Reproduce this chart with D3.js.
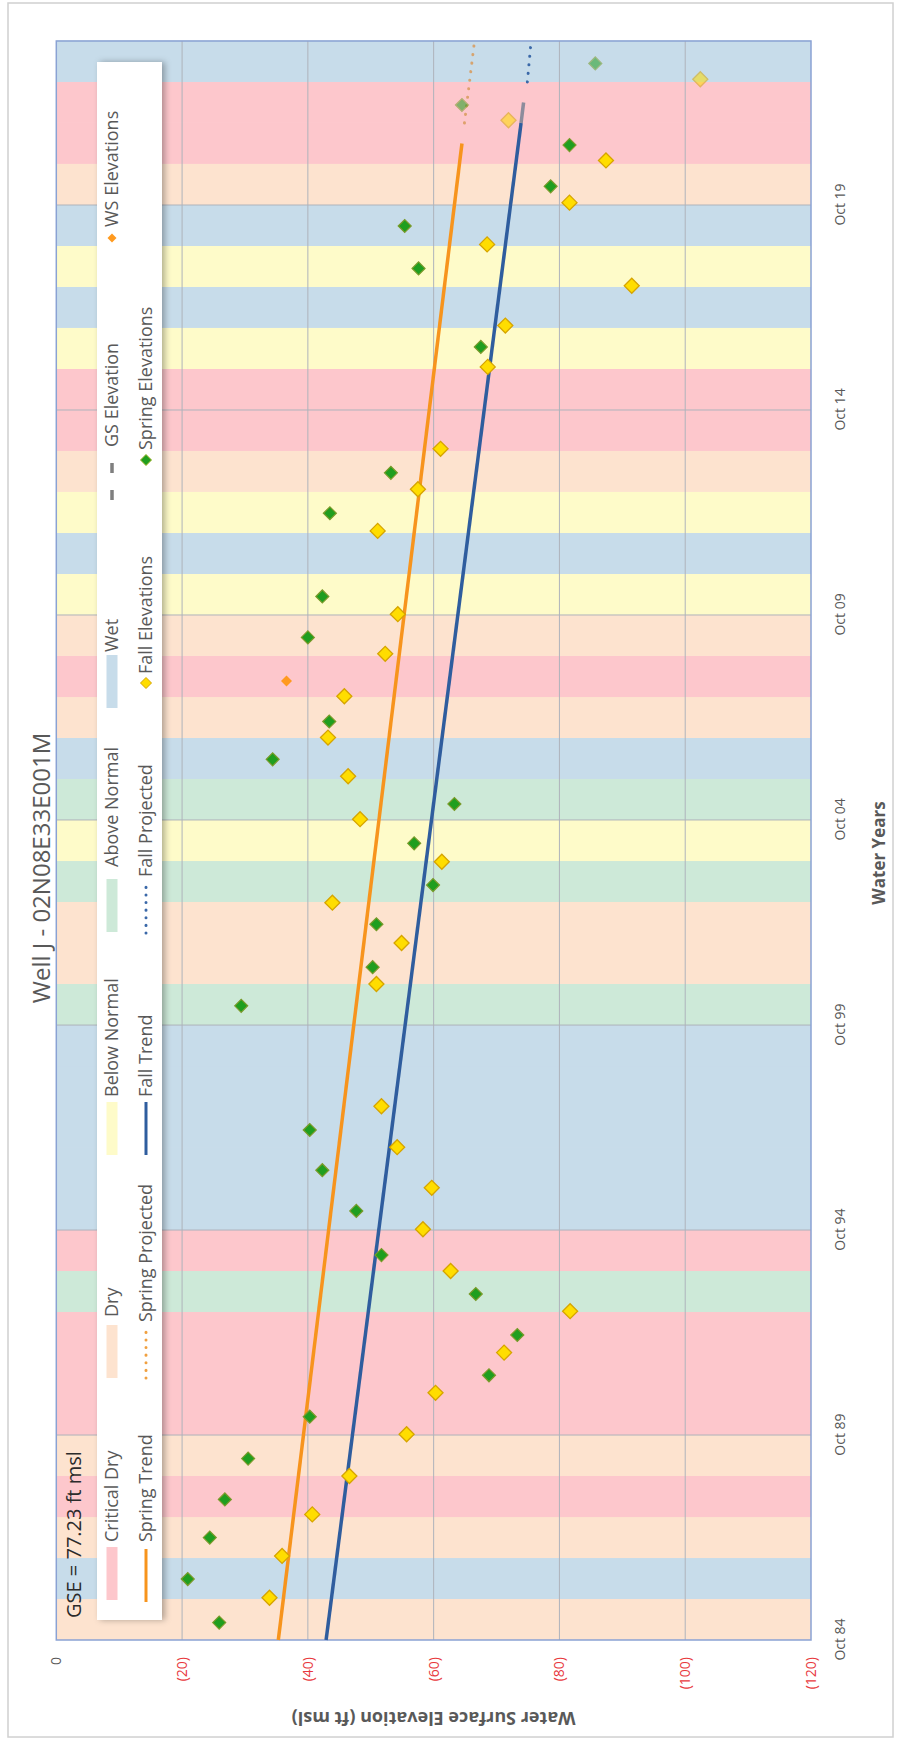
<!DOCTYPE html>
<html>
<head>
<meta charset="utf-8">
<script src="https://cdn.jsdelivr.net/npm/d3@7"></script>
<style>
body { margin: 0; background: #fff; }
text { font-family: "Open Sans", "Noto Sans", sans-serif; }
</style>
</head>
<body>
<div id="chart"></div>
<script>
var parseDate = d3.timeParse("%Y-%m-%d");

// water year types from WY 1985 to WY 2023
var waterYearStart = 1985;
var waterYearTypes = ["D","W","D","CD","D","CD","CD","CD","AN","CD","W","W","W","W","W","AN","D","D","AN","BN",
                      "AN","W","D","CD","D","BN","W","BN","D","CD","CD","BN","W","BN","W","D","CD","CD","W"];

var springDates = ["1985-03-05","1986-03-28","1987-04-01","1988-03-06","1989-03-05","1990-03-13","1991-03-17","1992-03-10",
                   "1993-03-10","1994-02-20","1995-03-20","1996-03-17","1997-03-10","2000-03-20","2001-02-28","2002-03-17",
                   "2003-03-01","2004-03-07","2005-02-20","2006-03-25","2007-02-25","2009-03-15","2010-03-15","2012-03-25",
                   "2013-03-20","2016-04-15","2018-03-15","2019-03-28","2020-03-15","2021-03-18","2022-03-10","2023-03-15"];
var springValues = [25.9,20.9,24.4,26.8,30.5,40.3,68.8,73.3,66.7,51.7,47.7,42.3,40.3,29.4,50.3,50.9,
                    59.9,56.9,63.3,34.4,43.4,40.0,42.3,43.5,53.2,67.5,57.6,55.4,78.6,81.6,64.5,85.7];

var fallDates = ["1985-10-12","1986-10-20","1987-10-25","1988-10-01","1989-10-08","1990-10-12","1991-10-05","1992-10-08",
                 "1993-10-01","1994-10-08","1995-10-12","1996-10-08","1997-10-08","2000-10-01","2001-10-01","2002-09-25",
                 "2003-09-25","2004-10-08","2005-10-25","2006-10-05","2007-10-08","2008-10-20","2009-10-08","2011-10-20",
                 "2012-10-25","2013-10-20","2015-10-20","2016-10-22","2017-10-12","2018-10-15","2019-10-22","2020-11-01",
                 "2021-10-25","2022-10-25"];
var fallValues = [33.9,35.9,40.7,46.6,55.7,60.3,71.2,81.7,62.7,58.3,59.7,54.2,51.7,50.9,54.9,43.9,
                  61.3,48.3,46.4,43.2,45.8,52.3,54.3,51.1,57.5,61.1,68.6,71.4,91.5,68.5,81.6,87.4,
                  71.9,102.4];

var wsDates = ["2008-02-20"];
var wsValues = [36.6];

var springTrendDates = ["1984-10-01","2021-04-01"], springTrendValues = [35.3, 64.5];
var springProjDates = ["2021-10-01","2023-10-01"], springProjValues = [64.9, 66.5];
var fallTrendDates = ["1984-10-01","2021-10-01"], fallTrendValues = [42.9, 73.9];
var gsDates = ["2021-10-01","2022-04-01"], gsValues = [73.9, 74.3];
var fallProjDates = ["2022-10-01","2023-10-01"], fallProjValues = [74.9, 75.5];

var xTickDates = ["1984-10-01","1989-10-01","1994-10-01","1999-10-01","2004-10-01","2009-10-01","2014-10-01","2019-10-01"];
var yTickValues = [0, 20, 40, 60, 80, 100, 120];

var lastMeasured = parseDate("2021-05-01");

var bandColors = { CD: "#fdc7cc", D: "#fde3cf", BN: "#fefbc9", AN: "#cde9d8", W: "#c7dcea" };

function zipSeries(dates, values) {
	return dates.map(function(d, i) { return { date: parseDate(d), value: values[i] }; });
}

function diamond(r) {
	return "M0," + (-r) + "L" + r + ",0L0," + r + "L" + (-r) + ",0Z";
}

var W = 898, H = 1743;

var svg = d3.select("#chart").append("svg")
	.attr("width", W)
	.attr("height", H);

var defs = svg.append("defs");
defs.append("filter").attr("id", "shadow")
	.attr("x", "-5%").attr("y", "-30%").attr("width", "110%").attr("height", "170%")
  .append("feDropShadow")
	.attr("dx", 0).attr("dy", 3).attr("stdDeviation", 3)
	.attr("flood-color", "#000").attr("flood-opacity", 0.3);

// chart is laid out landscape and then turned a quarter counter-clockwise
var g = svg.append("g").attr("transform", "translate(0," + H + ") rotate(-90)");

// outer frame
g.append("rect")
	.attr("x", 6).attr("y", 8)
	.attr("width", 1734).attr("height", 885)
	.style("fill", "#fff")
	.style("stroke", "#d0d0d0")
	.style("stroke-width", 1.5);

var x = d3.scaleTime()
	.domain([parseDate("1984-10-01"), parseDate("2023-10-01")])
	.range([103, 1702]);
var y = d3.scaleLinear()
	.domain([0, 120])
	.range([56.3, 811]);

// water year type bands
g.selectAll(".band")
	.data(waterYearTypes)
  .enter().append("rect")
	.attr("class", "band")
	.attr("x", function(d, i) { return x(new Date(waterYearStart + i - 1, 9, 1)); })
	.attr("width", function(d, i) { return x(new Date(waterYearStart + i, 9, 1)) - x(new Date(waterYearStart + i - 1, 9, 1)) + 0.5; })
	.attr("y", y(0))
	.attr("height", y(120) - y(0))
	.style("fill", function(d) { return bandColors[d]; });

// gridlines
g.selectAll(".vgrid")
	.data(yTickValues.slice(1, -1))
  .enter().append("line")
	.attr("x1", x.range()[0]).attr("x2", x.range()[1])
	.attr("y1", function(d) { return y(d); })
	.attr("y2", function(d) { return y(d); })
	.style("stroke", "#aeb3bb").style("stroke-width", 1);
g.selectAll(".hgrid")
	.data(xTickDates.slice(1))
  .enter().append("line")
	.attr("x1", function(d) { return x(parseDate(d)); })
	.attr("x2", function(d) { return x(parseDate(d)); })
	.attr("y1", y(0)).attr("y2", y(120))
	.style("stroke", "#aeb3bb").style("stroke-width", 1);

// plot border
g.append("rect")
	.attr("x", x.range()[0]).attr("y", y(0))
	.attr("width", x.range()[1] - x.range()[0])
	.attr("height", y(120) - y(0))
	.style("fill", "none")
	.style("stroke", "#8aa2d4")
	.style("stroke-width", 1.5);

// axes
var xAxis = g.append("g")
	.attr("transform", "translate(0," + 832 + ")")
	.call(d3.axisBottom(x)
		.tickValues(xTickDates.map(parseDate))
		.tickFormat(d3.timeFormat("%b %y"))
		.tickSize(0));
xAxis.select(".domain").remove();
xAxis.selectAll("text")
	.attr("dy", 0).attr("y", 13)
	.style("font-size", "14px")
	.style("fill", "#595959");

var yAxis = g.append("g")
	.attr("transform", "translate(" + 86 + ",0)")
	.call(d3.axisLeft(y)
		.tickValues(yTickValues)
		.tickFormat(function(v) { return v === 0 ? "0" : "(" + v + ")"; })
		.tickSize(0));
yAxis.select(".domain").remove();
yAxis.selectAll("text")
	.attr("x", 0)
	.style("font-size", "14px")
	.style("fill", function(d) { return d === 0 ? "#595959" : "#e8383d"; });

// axis titles
g.append("text")
	.attr("x", 890).attr("y", 885)
	.style("text-anchor", "middle")
	.style("font-size", "17px")
	.style("font-weight", "bold")
	.style("fill", "#595959")
	.text("Water Years");
g.append("text")
	.attr("transform", "translate(31," + y(60) + ") rotate(-90)")
	.style("text-anchor", "middle")
	.style("font-size", "18px")
	.style("font-weight", "bold")
	.style("fill", "#595959")
	.text("Water Surface Elevation (ft msl)");

// chart title
g.append("text")
	.attr("x", 875).attr("y", 50)
	.style("text-anchor", "middle")
	.style("font-size", "24px")
	.style("fill", "#595959")
	.text("Well J - 02N08E33E001M");

// trend and projection lines
var line = d3.line()
	.x(function(d) { return x(d.date); })
	.y(function(d) { return y(d.value); });

g.append("path").datum(zipSeries(springTrendDates, springTrendValues))
	.attr("d", line)
	.style("fill", "none").style("stroke", "#f7941d").style("stroke-width", 3.5);
g.append("path").datum(zipSeries(springProjDates, springProjValues))
	.attr("d", line)
	.style("fill", "none").style("stroke", "#d89a5a").style("stroke-width", 3)
	.style("stroke-dasharray", "0.1,8.5").style("stroke-linecap", "round").style("opacity", 0.85);
g.append("path").datum(zipSeries(fallTrendDates, fallTrendValues))
	.attr("d", line)
	.style("fill", "none").style("stroke", "#2f5d9e").style("stroke-width", 3.5);
g.append("path").datum(zipSeries(gsDates, gsValues))
	.attr("d", line)
	.style("fill", "none").style("stroke", "#8c8c9c").style("stroke-width", 3.5);
g.append("path").datum(zipSeries(fallProjDates, fallProjValues))
	.attr("d", line)
	.style("fill", "none").style("stroke", "#3a68a8").style("stroke-width", 3)
	.style("stroke-dasharray", "0.1,8.5").style("stroke-linecap", "round");

// markers
function fadeLate(d) { return d.date > lastMeasured ? 0.55 : 1; }

g.selectAll(".fall")
	.data(zipSeries(fallDates, fallValues))
  .enter().append("path")
	.attr("class", "fall")
	.attr("transform", function(d) { return "translate(" + x(d.date) + "," + y(d.value) + ")"; })
	.attr("d", diamond(7.5))
	.style("fill", "#ffdd00").style("stroke", "#d6a400").style("stroke-width", 1.3)
	.style("opacity", fadeLate);

g.selectAll(".spring")
	.data(zipSeries(springDates, springValues))
  .enter().append("path")
	.attr("class", "spring")
	.attr("transform", function(d) { return "translate(" + x(d.date) + "," + y(d.value) + ")"; })
	.attr("d", diamond(6.5))
	.style("fill", "#1f9e1f").style("stroke", "#7a9a2a").style("stroke-width", 1.2)
	.style("opacity", fadeLate);

g.selectAll(".ws")
	.data(zipSeries(wsDates, wsValues))
  .enter().append("path")
	.attr("class", "ws")
	.attr("transform", function(d) { return "translate(" + x(d.date) + "," + y(d.value) + ")"; })
	.attr("d", diamond(5.5))
	.style("fill", "#ff9a1f");

// GSE note
g.append("text")
	.attr("x", 125).attr("y", 81)
	.style("font-size", "20px")
	.style("fill", "#2b2b2b")
	.text("GSE = 77.23 ft msl");

// legend
var legendNames = ["Critical Dry","Dry","Below Normal","Above Normal","Wet","GS Elevation","WS Elevations",
                   "Spring Trend","Spring Projected","Fall Trend","Fall Projected","Fall Elevations","Spring Elevations"];
var legendKinds = ["band","band","band","band","band","gs","ws","line","dots","line","dots","fall","spring"];
var legendColors = ["#fdc7cc","#fde3cf","#fefbc9","#cde9d8","#c7dcea","#7f7f7f","#ff9a1f",
                    "#f7941d","#f0a040","#2f5d9e","#3a68a8","#ffdd00","#1f9e1f"];
// symbol start and text start along the legend, and its row
var legendSymX = [143,365,588,811,1035,1243,1505,141,365,588,810,1060,1283];
var legendTextX = [201,426,646,876,1091,1296,1516,201,421,646,866,1069,1293];
var legendRow = [0,0,0,0,0,0,0,1,1,1,1,1,1];
var rowMid = [112, 146];

g.append("rect")
	.attr("x", 123).attr("y", 97)
	.attr("width", 1558).attr("height", 65)
	.style("fill", "#fff")
	.style("filter", "url(#shadow)");

var legend = g.selectAll(".legend")
	.data(legendNames)
  .enter().append("g")
	.attr("class", "legend");

legend.each(function(name, i) {
	var item = d3.select(this);
	var kind = legendKinds[i], cy = rowMid[legendRow[i]], sx = legendSymX[i];
	if (kind == "band") {
		item.append("rect")
			.attr("x", sx).attr("y", cy - 5.5)
			.attr("width", 53).attr("height", 11)
			.style("fill", legendColors[i]);
	} else if (kind == "line" || kind == "dots") {
		item.append("line")
			.attr("x1", sx).attr("x2", sx + 53)
			.attr("y1", cy).attr("y2", cy)
			.style("stroke", legendColors[i])
			.style("stroke-width", 3)
			.style("stroke-linecap", kind == "dots" ? "round" : "butt")
			.style("stroke-dasharray", kind == "dots" ? "0.1,7.5" : null);
	} else if (kind == "gs") {
		item.append("line")
			.attr("x1", sx).attr("x2", sx + 38)
			.attr("y1", cy).attr("y2", cy)
			.style("stroke", legendColors[i])
			.style("stroke-width", 3.5)
			.style("stroke-dasharray", "10,17");
	} else {
		var r = kind == "ws" ? 4.5 : 5.5;
		item.append("path")
			.attr("transform", "translate(" + sx + "," + cy + ")")
			.attr("d", diamond(r))
			.style("fill", legendColors[i])
			.style("stroke", kind == "fall" ? "#d6a400" : (kind == "spring" ? "#9ab020" : "none"))
			.style("stroke-width", 1);
	}
	item.append("text")
		.attr("x", legendTextX[i])
		.attr("y", cy + 6)
		.style("font-size", "18px")
		.style("fill", "#595959")
		.text(name);
});
</script>
</body>
</html>
